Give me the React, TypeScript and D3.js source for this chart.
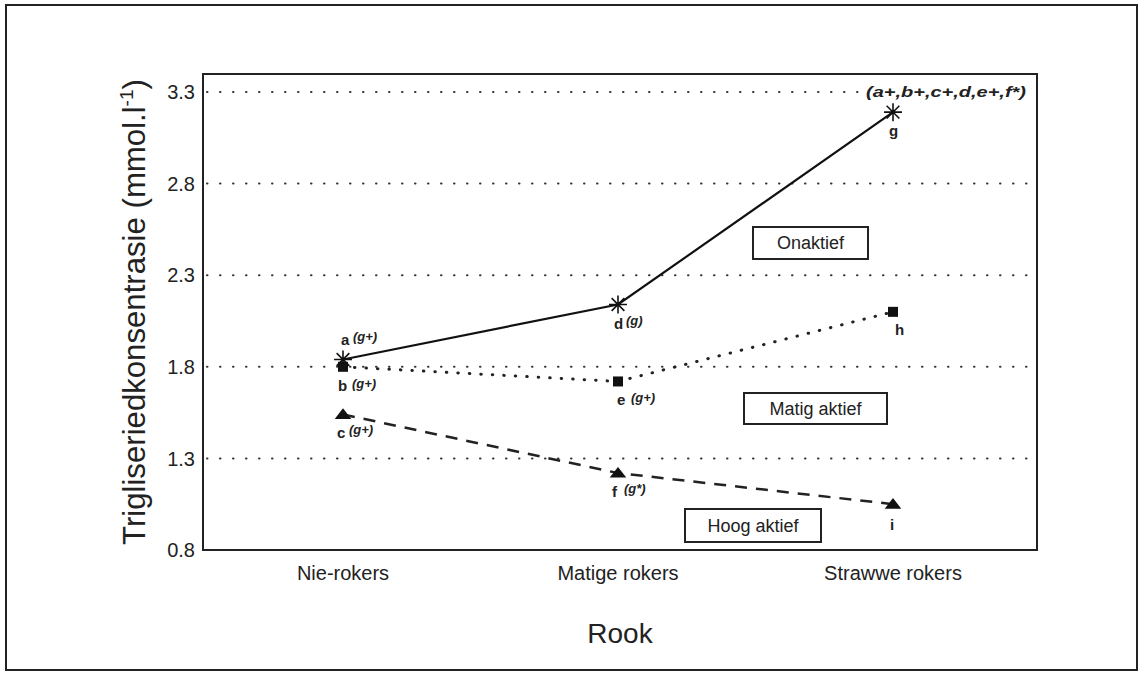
import * as d3 from "d3";

const categories = ["Nie-rokers", "Matige rokers", "Strawwe rokers"];
const yTicks = [0.8, 1.3, 1.8, 2.3, 2.8, 3.3];

const onaktief = [1.84, 2.14, 3.19];
const matigAktief = [1.8, 1.72, 2.1];
const hoogAktief = [1.54, 1.22, 1.05];

// point letters and their significance notes
const onaktiefLabels = [
  { letter: "a", note: "(g+)" },
  { letter: "d", note: "(g)" },
  { letter: "g", note: "" },
];
const matigLabels = [
  { letter: "b", note: "(g+)" },
  { letter: "e", note: "(g+)" },
  { letter: "h", note: "" },
];
const hoogLabels = [
  { letter: "c", note: "(g+)" },
  { letter: "f", note: "(g*)" },
  { letter: "i", note: "" },
];
const topNote = "(a+,b+,c+,d,e+,f*)";

const W = 1141;
const H = 676;
const plot = { left: 203, right: 1037, top: 74, bottom: 550 };
const font = "'Liberation Sans', Arial, sans-serif";

const x = d3
  .scalePoint<string>()
  .domain(categories)
  .range([343, 893]);

const y = d3
  .scaleLinear()
  .domain([0.8, 3.3])
  .range([plot.bottom, 92]);

const line = d3
  .line<number>()
  .x((_, i) => x(categories[i])!)
  .y((d) => y(d));

const starPath = (s: number) => {
  const r = s / 2;
  const parts: string[] = [];
  for (let k = 0; k < 4; k++) {
    const a = (k * Math.PI) / 4;
    const dx = Math.cos(a) * r;
    const dy = Math.sin(a) * r;
    parts.push(`M${-dx},${-dy}L${dx},${dy}`);
  }
  return parts.join("");
};

const triangle = d3.symbol(d3.symbolTriangle, 90)()!;

const App = () => {
  const cx = (i: number) => x(categories[i])!;
  const annStyle = {
    fontFamily: font,
    fontStyle: "italic" as const,
    fontWeight: 700,
    fill: "#222",
  };

  return (
    <svg
      width={W}
      height={H}
      style={{ position: "absolute", left: 0, top: 0, background: "#fff" }}
    >
      {/* outer frame */}
      <rect x={6} y={5} width={1131} height={665} fill="none" stroke="#222" strokeWidth={2} />

      {/* grid lines */}
      {yTicks.slice(1).map((t) => (
        <line
          key={t}
          x1={plot.left + 4}
          x2={plot.right}
          y1={y(t)}
          y2={y(t)}
          stroke="#333"
          strokeWidth={2}
          strokeDasharray="0.5,12.5"
          strokeLinecap="round"
        />
      ))}

      {/* plot box */}
      <rect
        x={plot.left}
        y={plot.top}
        width={plot.right - plot.left}
        height={plot.bottom - plot.top}
        fill="none"
        stroke="#222"
        strokeWidth={2}
      />

      {/* y ticks */}
      {yTicks.map((t) => (
        <text
          key={t}
          x={plot.left - 8}
          y={y(t)}
          dy="0.36em"
          textAnchor="end"
          fontFamily={font}
          fontSize={20}
          fill="#222"
        >
          {t.toFixed(1)}
        </text>
      ))}

      {/* x ticks */}
      {categories.map((c) => (
        <text
          key={c}
          x={x(c)!}
          y={580}
          textAnchor="middle"
          fontFamily={font}
          fontSize={20}
          fill="#222"
        >
          {c}
        </text>
      ))}

      {/* axis titles */}
      <text x={620} y={643} textAnchor="middle" fontFamily={font} fontSize={28} fill="#222">
        Rook
      </text>
      <text
        transform="translate(145,312) rotate(-90)"
        textAnchor="middle"
        fontFamily={font}
        fontSize={31}
        fill="#222"
        textLength={466}
        lengthAdjust="spacingAndGlyphs"
      >
        Trigliseriedkonsentrasie (mmol.l
        <tspan fontSize={19} dy={-12}>-1</tspan>
        <tspan dy={12}>)</tspan>
      </text>

      {/* series lines */}
      <path d={line(onaktief)!} fill="none" stroke="#111" strokeWidth={2.2} />
      <path
        d={line(matigAktief)!}
        fill="none"
        stroke="#222"
        strokeWidth={3}
        strokeDasharray="0.5,11"
        strokeLinecap="round"
      />
      <path
        d={line(hoogAktief)!}
        fill="none"
        stroke="#222"
        strokeWidth={2.5}
        strokeDasharray="12,9"
      />

      {/* markers */}
      {matigAktief.map((v, i) => (
        <rect key={"s" + i} x={cx(i) - 5} y={y(v) - 5} width={10} height={10} fill="#111" />
      ))}
      {onaktief.map((v, i) => (
        <path
          key={"a" + i}
          d={starPath(18)}
          transform={`translate(${cx(i)},${y(v)})`}
          stroke="#111"
          strokeWidth={1.6}
        />
      ))}
      {hoogAktief.map((v, i) => (
        <path
          key={"t" + i}
          d={triangle}
          transform={`translate(${cx(i)},${y(v) + 1}) scale(1.15,0.85)`}
          fill="#111"
        />
      ))}

      {/* point annotations */}
      {onaktiefLabels.map((l, i) => {
        const px = cx(i);
        const py = y(onaktief[i]);
        const pos = i === 0 ? { dx: -2, dy: -14 } : { dx: -4, dy: 24 };
        return (
          <g key={"la" + i}>
            <text x={px + pos.dx} y={py + pos.dy} fontSize={15} {...annStyle} fontStyle="normal">
              {l.letter}
            </text>
            {l.note && (
              <text x={px + pos.dx + 12} y={py + pos.dy - 4} fontSize={13} {...annStyle}>
                {l.note}
              </text>
            )}
          </g>
        );
      })}
      {matigLabels.map((l, i) => {
        const px = cx(i);
        const py = y(matigAktief[i]);
        const pos =
          i === 0 ? { dx: -5, dy: 24 } : i === 1 ? { dx: -1, dy: 24 } : { dx: 2, dy: 23 };
        return (
          <g key={"lb" + i}>
            <text x={px + pos.dx} y={py + pos.dy} fontSize={15} {...annStyle} fontStyle="normal">
              {l.letter}
            </text>
            {l.note && (
              <text x={px + pos.dx + 14} y={py + pos.dy - 3} fontSize={13} {...annStyle}>
                {l.note}
              </text>
            )}
          </g>
        );
      })}
      {hoogLabels.map((l, i) => {
        const px = cx(i);
        const py = y(hoogAktief[i]);
        const pos = i === 2 ? { dx: -3, dy: 26 } : { dx: -6, dy: 24 };
        return (
          <g key={"lc" + i}>
            <text x={px + pos.dx} y={py + pos.dy} fontSize={15} {...annStyle} fontStyle="normal">
              {l.letter}
            </text>
            {l.note && (
              <text x={px + pos.dx + 12} y={py + pos.dy - 4} fontSize={13} {...annStyle}>
                {l.note}
              </text>
            )}
          </g>
        );
      })}

      {/* note above the top point */}
      <rect x={864} y={y(3.3) - 8} width={166} height={16} fill="#fff" />
      <text
        x={866}
        y={y(3.3)}
        dy="0.35em"
        fontSize={14}
        textLength={160}
        lengthAdjust="spacingAndGlyphs"
        {...annStyle}
      >
        {topNote}
      </text>

      {/* legend boxes */}
      {[
        { label: "Onaktief", x0: 753, x1: 868, y0: 227, y1: 259 },
        { label: "Matig aktief", x0: 744, x1: 887, y0: 393, y1: 424 },
        { label: "Hoog aktief", x0: 685, x1: 821, y0: 509, y1: 542 },
      ].map((b) => (
        <g key={b.label}>
          <rect
            x={b.x0}
            y={b.y0}
            width={b.x1 - b.x0}
            height={b.y1 - b.y0}
            fill="#fff"
            stroke="#222"
            strokeWidth={2}
          />
          <text
            x={(b.x0 + b.x1) / 2}
            y={(b.y0 + b.y1) / 2}
            dy="0.36em"
            textAnchor="middle"
            fontFamily={font}
            fontSize={18}
            fill="#222"
          >
            {b.label}
          </text>
        </g>
      ))}
    </svg>
  );
};

export default App;
